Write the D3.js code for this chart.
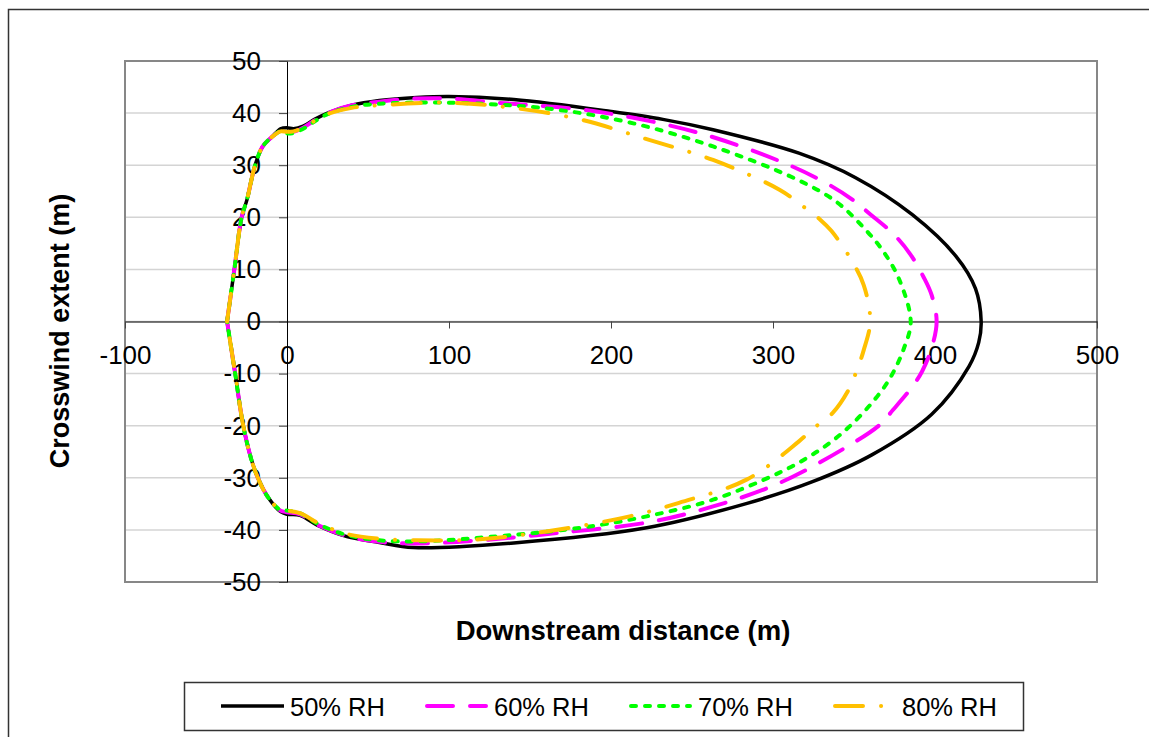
<!DOCTYPE html>
<html>
<head>
<meta charset="utf-8">
<script src="https://cdn.jsdelivr.net/npm/d3@7"></script>
<style>
	body { margin: 0; background: #fff; }
	svg { font-family: "Liberation Sans", Arial, sans-serif; display: block; }
</style>
</head>
<body>
<div id="mainWrapper"><svg width="1149" height="737"></svg></div>
<script>

	// 値
	var xTicks = [-100, 0, 100, 200, 300, 400, 500];
	var yTicks = [-50, -40, -30, -20, -10, 0, 10, 20, 30, 40, 50];
	var seriesNames = ["50% RH", "60% RH", "70% RH", "80% RH"];

	var rh50X = [-37, -32.5, -28, -24.7, -19.7, -15, -9, -4, 0, 4, 10, 17, 25, 40, 57, 80, 100, 140, 200, 232, 263, 316, 351, 386, 413, 425, 428.5, 427, 421, 398, 361, 324, 284, 222, 140, 78, 57, 37, 20, 8, 0, -4, -12, -18, -22, -27, -32, -37];
	var rh50Y = [0, 10, 20, 23.4, 30, 33.6, 35.5, 37, 37.2, 37, 37.5, 38.8, 40, 41.5, 42.4, 43, 43.2, 42.6, 40.3, 38.8, 36.8, 32.3, 27.6, 20.5, 12.5, 6.3, 0, -4, -8.6, -17.8, -25.6, -30.8, -34.9, -39.6, -42.5, -43.4, -42.4, -41.3, -39.3, -37.2, -37, -36.5, -33.6, -30, -26.5, -20, -10, 0];

	var rh60X = [-37, -32.5, -28, -24.7, -19.7, -15, -9, -4, 0, 4, 10, 17, 25, 40, 57, 80, 100, 130, 191, 253, 304, 332, 349, 360, 375, 385, 393, 398, 401, 398, 392, 386, 374, 366, 348, 304, 263, 222, 170, 119, 80, 57, 37, 20, 8, 0, -4, -12, -18, -22, -27, -32, -37];
	var rh60Y = [0, 10, 20, 23.4, 30, 33.6, 35.5, 36.7, 36.5, 36.4, 37.2, 38.6, 40, 41.5, 42.2, 42.8, 42.8, 42, 40.3, 36.3, 30.8, 26.7, 23.4, 20.6, 16.6, 12.8, 8.5, 5, 0, -5, -9.6, -12.5, -17, -19.8, -23.6, -31, -35.5, -38.6, -40.5, -42, -42.6, -42.3, -41.2, -39.2, -37, -36.6, -36.3, -33.6, -30, -26.5, -20, -10, 0];

	var rh70X = [-37, -32.5, -28, -24.7, -19.7, -15, -9, -4, 0, 4, 10, 17, 25, 40, 57, 99, 160, 211.5, 263, 314.5, 339, 356, 368, 378, 385, 381, 372, 360, 346, 335, 322, 304, 263, 222, 181, 119, 80, 57, 37, 20, 8, 0, -4, -12, -18, -22, -27, -32, -37];
	var rh70Y = [0, 10, 20, 23.4, 30, 33.6, 35.5, 36.5, 36.1, 36.2, 37, 38.4, 39.8, 41.2, 41.8, 42, 40.9, 38.2, 33.6, 27.3, 23, 18, 13.5, 8, 0, -5, -11, -16, -20.5, -23.3, -26, -29, -34.2, -37.4, -39.6, -41.5, -42.2, -42, -41, -39, -36.8, -36.3, -36.2, -33.6, -30, -26.5, -20, -10, 0];

	var rh80X = [-37, -32.5, -28, -24.7, -19.7, -15, -9, -4, 0, 4, 10, 17, 25, 40, 57, 99, 139.5, 180.7, 222, 263, 304, 319, 329, 336, 348, 356, 360, 356, 351, 346, 337, 325, 316, 284, 242, 211.5, 160, 119, 80, 57, 37, 20, 8, 0, -4, -12, -18, -22, -27, -32, -37];
	var rh80Y = [0, 10, 20, 23.4, 30, 33.6, 35.5, 36.5, 36.4, 36.5, 37.2, 38.5, 39.8, 41, 41.5, 42, 41, 38.8, 35, 31, 25.3, 22, 19.6, 17.4, 12, 7, 0, -5.5, -10, -13.5, -17.5, -20.5, -23, -30.3, -34.8, -37.4, -40.3, -41.8, -42, -41.7, -40.8, -38.8, -36.8, -36.3, -36.2, -33.6, -30, -26.5, -20, -10, 0];

	var seriesX = [rh50X, rh60X, rh70X, rh80X];
	var seriesY = [rh50Y, rh60Y, rh70Y, rh80Y];

	// 線のスタイル
	var lineColor = ["#000000", "#ff00ff", "#00ff00", "#ffc000"];
	var lineDash = [null, "26,17", "5,9", "28,18,0.1,18"];
	var lineWidth = [3.5, 4, 4, 4];

	var svg = d3.select("#mainWrapper>svg");

	// 外枠
	svg.append("rect")
		.attr("x", 8.5).attr("y", 9.5)
		.attr("width", 1160).attr("height", 760)
		.attr("fill", "none")
		.attr("stroke", "#333")
		.attr("stroke-width", 1.5);

	// プロットエリア（windowのtopと被らないように名前を変える）
	var plotL = 125, plotR = 1097, plotT = 61, plotB = 582;

	var x = d3.scaleLinear().domain([-100, 500]).range([plotL, plotR]);
	var y = d3.scaleLinear().domain([-50, 50]).range([plotB, plotT]);

	// ハイフンのマイナス
	var fmt = function(d){ return String(d); };

	//グリッド
	svg.append("g")
		.selectAll("line")
		.data(yTicks)
		.enter()
		.append("line")
		.attr("x1", plotL).attr("x2", plotR)
		.attr("y1", function(d){ return y(d); })
		.attr("y2", function(d){ return y(d); })
		.attr("stroke", "#d4d4d4")
		.attr("stroke-width", 1.5);

	//プロットエリア枠
	svg.append("rect")
		.attr("x", plotL).attr("y", plotT)
		.attr("width", plotR - plotL).attr("height", plotB - plotT)
		.attr("fill", "none")
		.attr("stroke", "#878787")
		.attr("stroke-width", 2);

	//X軸
	var xAxis = svg.append("g")
		.attr("transform", "translate(0," + y(0) + ")")
		.call(d3.axisBottom(x).tickValues(xTicks).tickSize(7).tickSizeOuter(0).tickFormat(fmt));
	xAxis.selectAll("text")
		.attr("y", 24)
		.attr("font-size", "26px")
		.attr("fill", "#000");

	//Y軸
	var yAxis = svg.append("g")
		.attr("transform", "translate(" + x(0) + ",0)")
		.call(d3.axisLeft(y).tickValues(yTicks).tickSize(8).tickSizeOuter(0).tickFormat(fmt));
	yAxis.selectAll("text")
		.attr("x", -26)
		.attr("font-size", "26px")
		.attr("fill", "#000");

	svg.selectAll(".domain").attr("stroke", "#000");
	svg.selectAll(".tick line").attr("stroke", "#444");

	//データ線
	var line = d3.line()
		.x(function(d){ return x(d[0]); })
		.y(function(d){ return y(d[1]); })
		.curve(d3.curveCatmullRom.alpha(0.5));

	var lines = svg.append("g").attr("fill", "none");
	seriesNames.forEach(function(name, i){
		var pts = seriesX[i].map(function(v, j){ return [v, seriesY[i][j]]; });
		lines.append("path")
			.attr("d", line(pts))
			.attr("stroke", lineColor[i])
			.attr("stroke-width", lineWidth[i])
			.attr("stroke-dasharray", lineDash[i])
			.attr("stroke-linecap", i == 0 ? "butt" : "round")
			.attr("stroke-linejoin", "round");
	});

	//軸タイトル
	svg.append("text")
		.attr("transform", "translate(69,331) rotate(-90)")
		.attr("text-anchor", "middle")
		.attr("font-size", "27px")
		.attr("font-weight", "bold")
		.text("Crosswind extent (m)");

	svg.append("text")
		.attr("x", (plotL + plotR) / 2 + 12)
		.attr("y", 640)
		.attr("text-anchor", "middle")
		.attr("font-size", "27.5px")
		.attr("font-weight", "bold")
		.text("Downstream distance (m)");

	//凡例
	var legend = svg.append("g");
	legend.append("rect")
		.attr("x", 184.5).attr("y", 682.5)
		.attr("width", 839).attr("height", 48)
		.attr("fill", "#fff")
		.attr("stroke", "#333")
		.attr("stroke-width", 1.5);

	var item = legend.selectAll("g.item")
		.data(seriesNames)
		.enter()
		.append("g")
		.attr("class", "item")
		.attr("transform", function(d, i){ return "translate(" + (221 + i * 204) + ",706)"; });

	item.append("line")
		.attr("x1", function(d, i){ return i == 0 ? 0 : 2; })
		.attr("x2", function(d, i){ return i == 0 ? 63 : 61; })
		.attr("stroke", function(d, i){ return lineColor[i]; })
		.attr("stroke-width", function(d, i){ return lineWidth[i]; })
		.attr("stroke-dasharray", function(d, i){ return lineDash[i]; })
		.attr("stroke-linecap", function(d, i){ return i == 0 ? "butt" : "round"; });

	item.append("text")
		.attr("x", 69)
		.attr("y", 10)
		.attr("font-size", "25.5px")
		.text(function(d){ return d; });

</script>
</body>
</html>
